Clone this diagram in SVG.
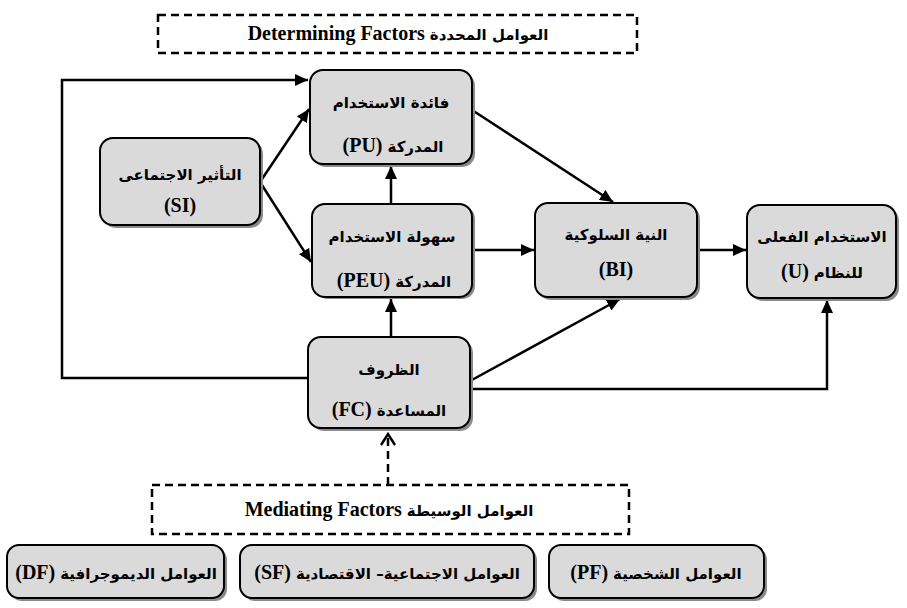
<svg xmlns="http://www.w3.org/2000/svg" width="907" height="608" viewBox="0 0 907 608">
<defs>
<marker id="ah" markerUnits="userSpaceOnUse" markerWidth="14" markerHeight="12" refX="13" refY="6" orient="auto">
<path d="M0,0 L13,6 L0,12 Z" fill="#000"/>
</marker>
<marker id="oh" markerUnits="userSpaceOnUse" markerWidth="16" markerHeight="16" refX="13" refY="8" orient="auto">
<path d="M2,1 L13,8 L2,15" fill="none" stroke="#000" stroke-width="2.5"/>
</marker>
</defs>
<style>
.sh{fill:#8a8a8a}
.bx{fill:#dadada;stroke:#000;stroke-width:2}
.t{font-family:"Liberation Serif","DejaVu Sans",serif;font-weight:bold;font-size:20px;fill:#000;text-anchor:middle;direction:rtl;unicode-bidi:embed}
.a{font-family:"DejaVu Sans","Liberation Serif",sans-serif;font-size:15px}
.c{fill:none;stroke:#000;stroke-width:2.5}
.d{fill:none;stroke:#000;stroke-width:2.5;stroke-dasharray:8 5}
</style>
<rect x="0" y="0" width="907" height="608" fill="#fff"/>

<g id="determining">
<rect x="158" y="15" width="479" height="38" class="d"/>
<text x="398" y="40" class="t"><tspan class="a">العوامل المحددة</tspan> Determining Factors</text>
</g>

<g id="connectors">
<polyline points="308,378 62,378 62,80 308,80" class="c" marker-end="url(#ah)"/>
<line x1="260" y1="182" x2="309" y2="109" class="c" marker-end="url(#ah)"/>
<line x1="260" y1="182" x2="311" y2="262" class="c" marker-end="url(#ah)"/>
<line x1="391" y1="203" x2="391" y2="166" class="c" marker-end="url(#ah)"/>
<line x1="472" y1="110" x2="613" y2="202" class="c" marker-end="url(#ah)"/>
<line x1="472" y1="250" x2="534" y2="250" class="c" marker-end="url(#ah)"/>
<line x1="697" y1="250" x2="746" y2="250" class="c" marker-end="url(#ah)"/>
<line x1="391" y1="337" x2="391" y2="299" class="c" marker-end="url(#ah)"/>
<line x1="470" y1="381" x2="620" y2="299" class="c" marker-end="url(#ah)"/>
<polyline points="470,389 827,389 827,300" class="c" marker-end="url(#ah)"/>
<line x1="388" y1="485" x2="388" y2="434" class="d" marker-end="url(#oh)"/>
</g>

<g id="PU">
<rect x="313" y="73" width="162" height="94" rx="13" class="sh"/>
<rect x="310" y="70" width="162" height="94" rx="13" class="bx"/>
<text x="391" y="108" class="t"><tspan class="a">فائدة الاستخدام</tspan></text>
<text x="393" y="152" class="t"><tspan class="a">المدركة</tspan> (PU)</text>
</g>

<g id="SI">
<rect x="103" y="141" width="160" height="87" rx="13" class="sh"/>
<rect x="100" y="138" width="160" height="87" rx="13" class="bx"/>
<text x="180" y="180" class="t"><tspan class="a">التأثير الاجتماعى</tspan></text>
<text x="180" y="212" class="t">(SI)</text>
</g>

<g id="PEU">
<rect x="315" y="206" width="160" height="93" rx="13" class="sh"/>
<rect x="312" y="204" width="160" height="93" rx="13" class="bx"/>
<text x="392" y="242" class="t"><tspan class="a">سهولة الاستخدام</tspan></text>
<text x="394" y="287" class="t"><tspan class="a">المدركة</tspan> (PEU)</text>
</g>

<g id="BI">
<rect x="538" y="206" width="162" height="94" rx="13" class="sh"/>
<rect x="535" y="203" width="162" height="94" rx="13" class="bx"/>
<text x="616" y="240" class="t"><tspan class="a">النية السلوكية</tspan></text>
<text x="616" y="276" class="t">(BI)</text>
</g>

<g id="U">
<rect x="750" y="208" width="149" height="93" rx="13" class="sh"/>
<rect x="747" y="205" width="149" height="93" rx="13" class="bx"/>
<text x="822" y="242" class="t"><tspan class="a">الاستخدام الفعلى</tspan></text>
<text x="822" y="278" class="t"><tspan class="a">للنظام</tspan> (U)</text>
</g>

<g id="FC">
<rect x="311" y="340" width="162" height="91" rx="13" class="sh"/>
<rect x="308" y="337" width="162" height="91" rx="13" class="bx"/>
<text x="389" y="375" class="t"><tspan class="a">الظروف</tspan></text>
<text x="389" y="416" class="t"><tspan class="a">المساعدة</tspan> (FC)</text>
</g>

<g id="mediating">
<rect x="152" y="485" width="477" height="49" class="d"/>
<text x="389" y="516" class="t"><tspan class="a">العوامل الوسيطة</tspan> Mediating Factors</text>
</g>

<g id="DF">
<rect x="10" y="548" width="217" height="53" rx="12" class="sh"/>
<rect x="7" y="545" width="217" height="53" rx="12" class="bx"/>
<text x="116" y="579" class="t"><tspan class="a">العوامل الديموجرافية</tspan> (DF)</text>
</g>

<g id="SF">
<rect x="243" y="548" width="294" height="53" rx="12" class="sh"/>
<rect x="240" y="545" width="294" height="53" rx="12" class="bx"/>
<text x="387" y="579" class="t"><tspan class="a">العوامل الاجتماعية– الاقتصادية</tspan> (SF)</text>
</g>

<g id="PF">
<rect x="552" y="548" width="215" height="53" rx="12" class="sh"/>
<rect x="549" y="545" width="215" height="53" rx="12" class="bx"/>
<text x="656" y="579" class="t"><tspan class="a">العوامل الشخصية</tspan> (PF)</text>
</g>
</svg>
